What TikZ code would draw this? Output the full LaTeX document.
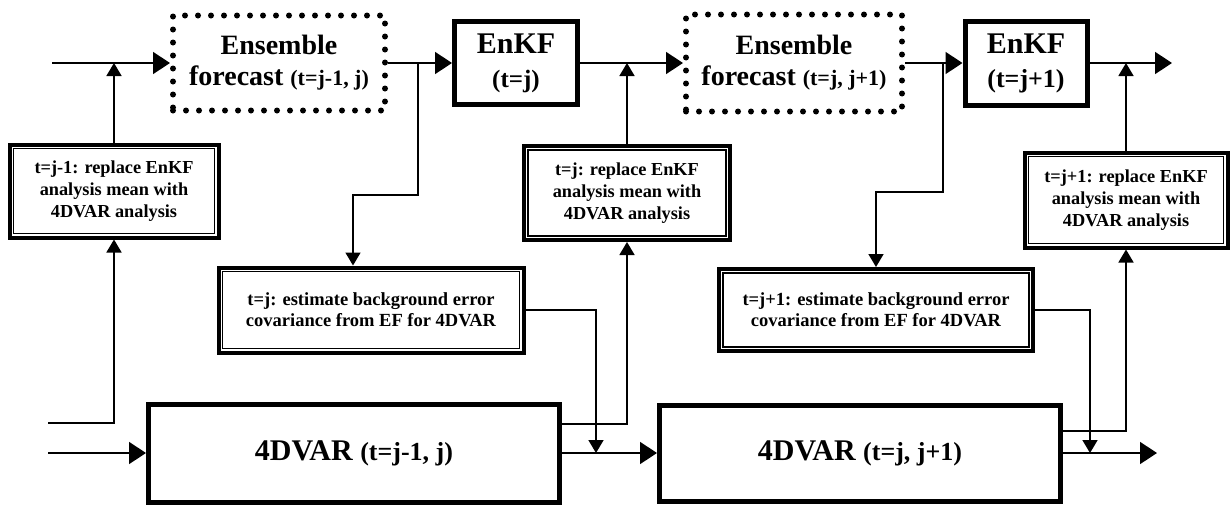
\documentclass[tikz,border=0pt]{standalone}
\usepackage{fontspec}
\setmainfont{Liberation Serif}
\usetikzlibrary{arrows.meta}
\begin{document}
\begin{tikzpicture}[x=1pt, y=-1pt, >={Triangle[length=17pt,width=22pt]}, line width=1.6pt]
    \tikzstyle{ef}=[draw, line width=6pt, dash pattern=on 0pt off 13pt, line cap=round, align=center, inner sep=0pt, font=\fontsize{28}{31}\selectfont\bfseries]
    \tikzstyle{kf}=[draw, line width=5pt, align=center, inner sep=0pt, font=\fontsize{30}{34}\selectfont\bfseries]
    \tikzstyle{var}=[draw, line width=5pt, inner sep=0pt, font=\fontsize{30}{34}\selectfont\bfseries]
    \tikzstyle{dbl}=[draw, line width=4pt, align=center, inner sep=0pt]
    \tikzstyle{repl}=[dbl, font=\fontsize{18.3}{21.7}\selectfont\bfseries]
    \tikzstyle{est}=[dbl, font=\fontsize{18.5}{21}\selectfont\bfseries]
    \tikzstyle{sm}=[-{Triangle[length=13pt,width=15pt]}]
    \useasboundingbox (0,0) rectangle (1231,509);
    \node[ef, minimum width=212pt, minimum height=95pt] (ef1) at (279,63) {Ensemble\\forecast {\fontsize{22}{24}\selectfont (t=j-1, j)}};
    \node[kf, minimum width=123pt, minimum height=83pt] (kf1) at (516,63) {EnKF\\{\fontsize{25}{28}\selectfont (t=j)}};
    \node[ef, minimum width=216pt, minimum height=97pt] (ef2) at (794,63) {Ensemble\\forecast {\fontsize{22}{24}\selectfont (t=j, j+1)}};
    \node[kf, minimum width=122pt, minimum height=84pt] (kf2) at (1026,63) {EnKF\\{\fontsize{26}{28}\selectfont (t=j+1)}};
    \node[repl, minimum width=209pt, minimum height=93pt] (r1) at (114,191) {t=j-1: replace EnKF\\analysis mean with\\4DVAR analysis};
    \node[repl, minimum width=206pt, minimum height=94pt] (r2) at (627,193) {t=j: replace EnKF\\analysis mean with\\4DVAR analysis};
    \node[repl, minimum width=203pt, minimum height=95pt] (r3) at (1126,200) {t=j+1: replace EnKF\\analysis mean with\\4DVAR analysis};
    \node[est, minimum width=305pt, minimum height=85pt] (e1) at (371,310) {t=j: estimate background error\\covariance from EF for 4DVAR};
    \node[est, minimum width=314pt, minimum height=82pt] (e2) at (876,310) {t=j+1: estimate background error\\covariance from EF for 4DVAR};
    \node[var, minimum width=411pt, minimum height=98pt] (v1) at (354,453) {4DVAR {\fontsize{26}{30}\selectfont (t=j-1, j)}};
    \node[var, minimum width=401pt, minimum height=96pt] (v2) at (860,453) {4DVAR {\fontsize{26}{30}\selectfont (t=j, j+1)}};
    \foreach \bx in {r1,r2,r3,e1,e2}
      \draw[line width=1.3pt] ([shift={(6pt,-6pt)}]\bx.north west) rectangle ([shift={(-6pt,6pt)}]\bx.south east);
    \coordinate (in1) at (52,63);
    \coordinate (b1) at (418,63);
    \coordinate (k1) at (353,195);
    \coordinate (b2) at (943,63);
    \coordinate (k2) at (876,192);
    \coordinate (out1) at (1172,63);
    \coordinate (fb1) at (48,423);
    \coordinate (in2) at (48,453);
    \coordinate (fb2) at (600,424);
    \coordinate (d1) at (596,453);
    \coordinate (fb3) at (1100,431);
    \coordinate (d2) at (1090,453);
    \coordinate (out2) at (1157,453);
    \draw[->] (in1) -- (ef1.west);
    \draw[->] (ef1.east) -- (kf1.west);
    \draw[sm] (b1) |- (k1) -- (k1 |- e1.north);
    \draw[sm] (r1.north) -- (r1.north |- in1);
    \draw[->] (kf1.east) -- (ef2.west);
    \draw[sm] (r2.north) -- (r2.north |- kf1.east);
    \draw[->] (ef2.east) -- (kf2.west);
    \draw[sm] (b2) |- (k2) -- (k2 |- e2.north);
    \draw[->] (kf2.east) -- (out1);
    \draw[sm] (r3.north) -- (r3.north |- out1);
    \draw[sm] (fb1) -| (r1.south);
    \draw[->] (in2) -- (v1.west);
    \draw[sm] (v1.east |- fb2) -| (r2.south);
    \draw[->] (v1.east) -- (v2.west);
    \draw[sm] (e1.east) -| (d1);
    \draw[sm] (v2.east |- fb3) -| (r3.south);
    \draw[->] (v2.east) -- (out2);
    \draw[sm] (e2.east) -| (d2);
  \end{tikzpicture}
\end{document}
